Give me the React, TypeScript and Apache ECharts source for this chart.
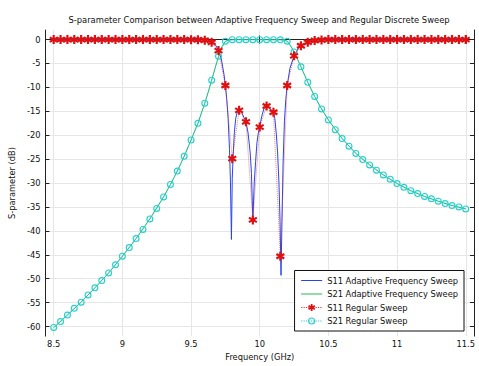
import React, { useEffect, useRef } from "react";
import * as echarts from "echarts";

const freqRegular = [
  8.5, 8.55, 8.6, 8.65, 8.7, 8.75, 8.8, 8.85, 8.9, 8.95,
  9.0, 9.05, 9.1, 9.15, 9.2, 9.25, 9.3, 9.35, 9.4, 9.45,
  9.5, 9.55, 9.6, 9.65, 9.7, 9.75, 9.8, 9.85, 9.9, 9.95,
  10.0, 10.05, 10.1, 10.15, 10.2, 10.25, 10.3, 10.35, 10.4, 10.45,
  10.5, 10.55, 10.6, 10.65, 10.7, 10.75, 10.8, 10.85, 10.9, 10.95,
  11.0, 11.05, 11.1, 11.15, 11.2, 11.25, 11.3, 11.35, 11.4, 11.45,
  11.5,
];

const s11Regular = [
  0, 0, 0, 0, 0, 0, 0, 0, 0, 0,
  0, 0, 0, 0, 0, 0, 0, 0, 0, 0,
  -0.02, -0.05, -0.15, -0.55, -2.3, -9.6, -24.9, -14.8, -17.2, -37.7,
  -18.3, -13.9, -15.2, -45.3, -9.6, -3.4, -1.3, -0.55, -0.2, -0.08,
  0, 0, 0, 0, 0, 0, 0, 0, 0, 0,
  0, 0, 0, 0, 0, 0, 0, 0, 0, 0,
  0,
];

const s21Regular = [
  -60.2, -58.95, -57.6, -56.2, -54.9, -53.4, -51.9, -50.4, -48.8, -47.1,
  -45.3, -43.5, -41.6, -39.7, -37.5, -35.3, -32.9, -30.3, -27.5, -24.4,
  -21.0, -17.5, -13.3, -8.5, -3.5, -0.35, -0.03, -0.02, -0.03, -0.02,
  -0.02, -0.03, -0.02, -0.05, -0.35, -2.6, -5.7, -8.95, -11.9, -14.5,
  -16.8, -18.85, -20.7, -22.3, -23.8, -25.1, -26.2, -27.3, -28.3, -29.2,
  -30.1, -30.9, -31.6, -32.2, -32.8, -33.3, -33.8, -34.3, -34.7, -35.0,
  -35.4,
];

const freqAdaptiveS11 = [
  8.5, 9.0, 9.5, 9.55, 9.6, 9.65, 9.68, 9.7, 9.72, 9.74,
  9.75, 9.76, 9.77, 9.78, 9.787, 9.794, 9.8, 9.807, 9.815, 9.825,
  9.84, 9.855, 9.87, 9.885, 9.9, 9.915, 9.93, 9.94, 9.95, 9.96,
  9.97, 9.98, 9.99, 10.0, 10.015, 10.03, 10.045, 10.06, 10.075, 10.09,
  10.1, 10.11, 10.12, 10.13, 10.14, 10.148, 10.155, 10.162, 10.17, 10.18,
  10.19, 10.2, 10.22, 10.25, 10.28, 10.3, 10.35, 10.4, 10.45, 10.5,
  11.0, 11.5,
];

const s11Adaptive = [
  0, 0, -0.02, -0.05, -0.15, -0.55, -1.2, -2.3, -4.0, -7.3,
  -9.6, -12.5, -16.5, -23, -30, -41.8, -29, -24, -19.5, -16.5,
  -14.8, -14.6, -15.3, -16.3, -17.2, -19.5, -23.5, -28, -38, -30,
  -25.5, -21.5, -19.5, -18.2, -16, -14.5, -13.8, -13.9, -14.4, -14.9,
  -15.2, -16.5, -19.5, -23.5, -30, -38, -49.3, -38, -26, -17,
  -12.5, -9.6, -6.0, -3.4, -1.9, -1.3, -0.55, -0.2, -0.08, 0,
  0, 0,
];

const freqAdaptiveS21 = [
  8.5, 8.6, 8.7, 8.8, 8.9, 9.0, 9.1, 9.2, 9.3, 9.35,
  9.4, 9.45, 9.5, 9.55, 9.6, 9.625, 9.65, 9.675, 9.7, 9.725,
  9.75, 9.775, 9.8, 10.0, 10.15, 10.175, 10.2, 10.225, 10.25, 10.275,
  10.3, 10.35, 10.4, 10.45, 10.5, 10.6, 10.7, 10.8, 10.9, 11.0,
  11.1, 11.2, 11.3, 11.4, 11.5,
];

const s21Adaptive = [
  -60.2, -57.6, -54.9, -51.9, -48.8, -45.3, -41.6, -37.5, -32.9, -30.3,
  -27.5, -24.4, -21.0, -17.5, -13.3, -11.0, -8.5, -6.0, -3.5, -1.5,
  -0.35, -0.1, -0.03, -0.02, -0.05, -0.1, -0.35, -1.3, -2.6, -4.1,
  -5.7, -8.95, -11.9, -14.5, -16.8, -20.7, -23.8, -26.2, -28.3, -30.1,
  -31.6, -32.8, -33.8, -34.7, -35.4,
];

const xTicks = [8.5, 9, 9.5, 10, 10.5, 11, 11.5];
const yTicks = [0, -5, -10, -15, -20, -25, -30, -35, -40, -45, -50, -55, -60];

const seriesNames = [
  "S11 Adaptive Frequency Sweep",
  "S21 Adaptive Frequency Sweep",
  "S11 Regular Sweep",
  "S21 Regular Sweep",
];

const titleText =
  "S-parameter Comparison between Adaptive Frequency Sweep and Regular Discrete Sweep";

const FONT = "DejaVu Sans";

const asteriskPath =
  "path://M-2.4,-10L2.4,-10L2.4,10L-2.4,10Z" +
  "M-7.46,-7.08L9.86,2.92L7.46,7.08L-9.86,-2.92Z" +
  "M9.86,-2.92L-7.46,7.08L-9.86,2.92L7.46,-7.08Z";

const ringPath =
  "path://M0,-10A10,10,0,1,1,0,10A10,10,0,1,1,0,-10Z" +
  "M0,-6.8A6.8,6.8,0,1,0,0,6.8A6.8,6.8,0,1,0,0,-6.8Z";

const zip = (xs: number[], ys: number[]) => xs.map((x, i) => [x, ys[i]]);

export default function App() {
  const ref = useRef<HTMLDivElement>(null);

  useEffect(() => {
    if (!ref.current) return;
    const chart = echarts.init(ref.current, null, { renderer: "svg" });
    const axisLine = { show: true, lineStyle: { color: "#222", width: 1 } };
    const option: any = {
      animation: false,
      backgroundColor: "#fff",
      title: {
        text: titleText,
        left: 259,
        top: 16,
        padding: 0,
        textAlign: "center",
        textStyle: { fontFamily: FONT, fontSize: 8.4, fontWeight: "normal", color: "#111" },
      },
      grid: { left: 45, right: 5, top: 30, bottom: 24, containLabel: false },
      xAxis: [
        {
          type: "value",
          min: 8.44,
          max: 11.56,
          position: "bottom",
          name: "Frequency (GHz)",
          nameLocation: "middle",
          nameGap: 13,
          nameTextStyle: { fontFamily: FONT, fontSize: 8.3, color: "#111" },
          axisLine,
          axisTick: { show: true, inside: true, length: 4, customValues: xTicks, lineStyle: { color: "#222" } },
          axisLabel: { customValues: xTicks, fontFamily: FONT, fontSize: 8.3, color: "#111", margin: 4 },
          splitLine: { show: true, lineStyle: { color: "#e6e6e6", width: 1 } },
        },
        {
          type: "value",
          min: 8.44,
          max: 11.56,
          position: "top",
          axisLine,
          axisTick: { show: true, inside: true, length: 4, customValues: xTicks, lineStyle: { color: "#222" } },
          axisLabel: { show: false, customValues: xTicks },
          splitLine: { show: false },
        },
      ],
      yAxis: [
        {
          type: "value",
          min: -62,
          max: 2,
          position: "left",
          name: "S-parameter (dB)",
          nameLocation: "middle",
          nameGap: 29,
          nameRotate: 90,
          nameTextStyle: { fontFamily: FONT, fontSize: 8.3, color: "#111" },
          axisLine,
          axisTick: { show: true, inside: true, length: 4, customValues: yTicks, lineStyle: { color: "#222" } },
          axisLabel: { customValues: yTicks, fontFamily: FONT, fontSize: 8.3, color: "#111", margin: 5 },
          splitLine: { show: true, lineStyle: { color: "#e6e6e6", width: 1 } },
        },
        {
          type: "value",
          min: -62,
          max: 2,
          position: "right",
          axisLine,
          axisTick: { show: true, inside: true, length: 4, customValues: yTicks, lineStyle: { color: "#222" } },
          axisLabel: { show: false, customValues: yTicks },
          splitLine: { show: false },
        },
      ],
      legend: {
        data: [
          { name: seriesNames[0], itemStyle: { opacity: 0 }, lineStyle: { width: 1, color: "#2546ee" } },
          { name: seriesNames[1], itemStyle: { opacity: 0 }, lineStyle: { width: 1, color: "#2cb560" } },
          { name: seriesNames[2], lineStyle: { width: 1.2, color: "#e83030", type: "dotted" } },
          { name: seriesNames[3], lineStyle: { width: 1.2, color: "#25d0d0", type: "dotted" } },
        ],
        orient: "vertical",
        right: 15,
        bottom: 35,
        itemGap: 5.5,
        itemWidth: 21,
        itemHeight: 9,
        padding: [6, 6, 6, 6],
        backgroundColor: "#fff",
        borderColor: "#111",
        borderWidth: 1,
        borderRadius: 0,
        textStyle: { fontFamily: FONT, fontSize: 8.3, color: "#111" },
      },
      series: [
        {
          name: seriesNames[0],
          type: "line",
          data: zip(freqAdaptiveS11, s11Adaptive),
          symbol: "none",
          showSymbol: false,
          color: "#2546ee",
          lineStyle: { color: "#2546ee", width: 1 },
          z: 2,
        },
        {
          name: seriesNames[1],
          type: "line",
          data: zip(freqAdaptiveS21, s21Adaptive),
          symbol: "none",
          showSymbol: false,
          color: "#2cb560",
          lineStyle: { color: "#2cb560", width: 1 },
          z: 2,
        },
        {
          name: seriesNames[2],
          type: "line",
          data: zip(freqRegular, s11Regular),
          symbol: asteriskPath,
          symbolSize: 9,
          color: "#e01010",
          itemStyle: { color: "#e01010" },
          lineStyle: { color: "rgba(230,40,40,0.6)", width: 1, type: "dotted" },
          z: 4,
        },
        {
          name: seriesNames[3],
          type: "line",
          data: zip(freqRegular, s21Regular),
          symbol: ringPath,
          symbolSize: 7,
          color: "#25d0d0",
          itemStyle: { color: "#25d0d0" },
          lineStyle: { color: "rgba(30,210,210,0.7)", width: 1, type: "dotted" },
          z: 3,
        },
      ],
    };
    chart.setOption(option);
    return () => chart.dispose();
  }, []);

  return (
    <div
      ref={ref}
      style={{ position: "absolute", left: 0, top: 0, width: 479, height: 366 }}
    />
  );
}
